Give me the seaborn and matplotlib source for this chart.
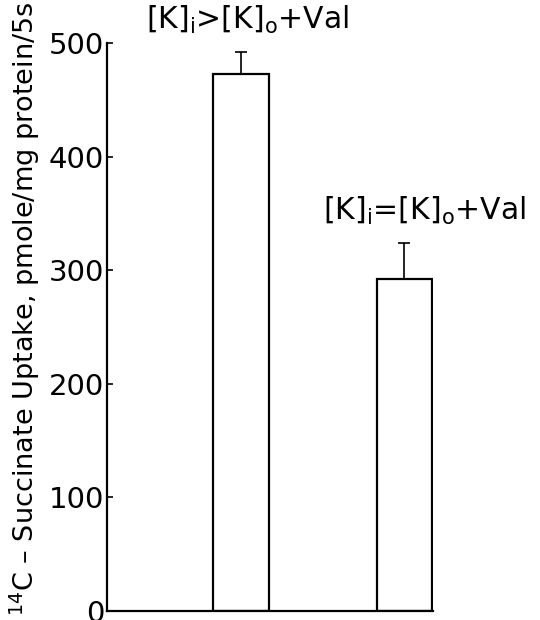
import pandas as pd
import matplotlib
matplotlib.use('Agg')
import matplotlib.pyplot as plt
import seaborn as sns

# Данные с рисунка
conditions = ['[K]$_\\mathregular{i}$>[K]$_\\mathregular{o}$+Val',
              '[K]$_\\mathregular{i}$=[K]$_\\mathregular{o}$+Val']
uptake = [473, 292]
uptake_err = [19, 32]
y_ticks = [0, 100, 200, 300, 400, 500]

df = pd.DataFrame({'condition': conditions, 'uptake': uptake})

sns.set_style('ticks')
plt.rcParams['font.family'] = ['DejaVu Sans']
plt.rcParams['mathtext.fontset'] = 'dejavusans'
plt.rcParams['text.color'] = 'black'
plt.rcParams['axes.labelcolor'] = 'black'
plt.rcParams['ytick.color'] = 'black'

fig = plt.figure(figsize=(5.4, 6.2), dpi=100)
ax = fig.add_axes([0.198, 0.0145, 0.604, 0.916])

sns.barplot(data=df, x='condition', y='uptake', color='white', edgecolor='black',
            linewidth=1.6, width=0.34, errorbar=None, ax=ax)
ax.errorbar(range(len(uptake)), uptake, yerr=[[0] * len(uptake), uptake_err],
            fmt='none', ecolor='black', elinewidth=1.2, capsize=4, capthick=1.2)

# подписи над столбцами
label_dx = [0.04, 0.12]
for i, (val, err, name) in enumerate(zip(uptake, uptake_err, conditions)):
    ax.text(i + label_dx[i], val + err + 28, name, ha='center', va='center',
            fontsize=21.5, clip_on=False)

ax.set_xlim(-0.82, 1.175)
ax.set_ylim(0, 500)
ax.set_yticks(y_ticks)
ax.tick_params(axis='y', direction='in', length=4, width=1.2, labelsize=21, pad=2)
ax.tick_params(axis='x', length=0, labelbottom=False)
ax.set_xlabel('')
ax.set_ylabel('$^{\\mathregular{14}}$C – Succinate Uptake, pmole/mg protein/5s',
              fontsize=19.5)
ax.yaxis.set_label_coords(-0.2, 0.532)
sns.despine(ax=ax)
for s in ['left', 'bottom']:
    ax.spines[s].set_linewidth(1.6)
    ax.spines[s].set_color('black')

plt.savefig('out.png', dpi=100)
